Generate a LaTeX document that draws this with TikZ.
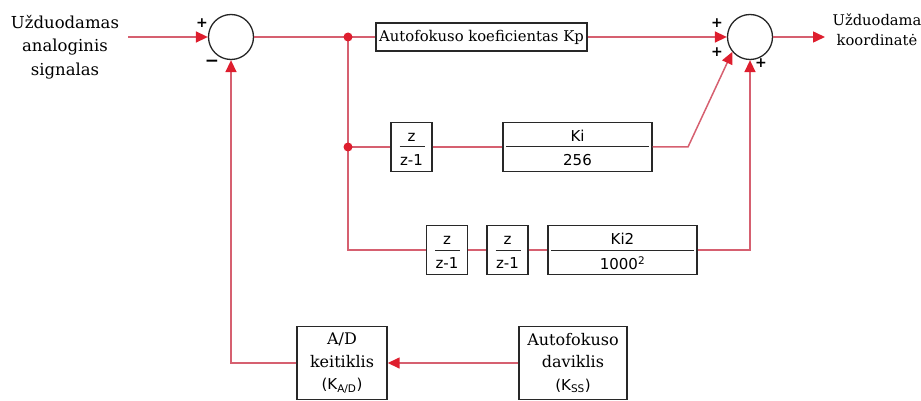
\documentclass[tikz,border=0pt]{standalone}
\usepackage{fontspec}
\setmainfont{DejaVu Serif}
\setsansfont{DejaVu Sans}
\usetikzlibrary{arrows.meta,positioning}
\definecolor{wire}{RGB}{214,96,112}
\definecolor{tipred}{RGB}{222,30,46}
\definecolor{frame}{RGB}{40,40,40}

\begin{document}
\begin{tikzpicture}[x=1pt, y=-1pt,
  sumc/.style={circle, draw=black!85, line width=1.3pt, minimum size=45pt,
               inner sep=0pt},
  blk/.style={draw=frame, line width=1.4pt, inner sep=0pt, align=center},
  zbox/.style={blk, minimum width=41pt, minimum height=49pt},
  kbox/.style={blk, minimum width=149pt, minimum height=49pt},
  sensbox/.style={blk, font=\fontsize{16}{22.5}\selectfont, minimum height=73pt},
  num/.style={font=\sffamily\fontsize{15}{15}\selectfont, inner sep=0pt},
  bar/.style={line width=1pt, frame},
  link/.style={wire, line width=1.5pt},
  feed/.style={link, -{Triangle[length=12pt, width=11pt, color=tipred, fill=tipred]}},
  sgn/.style={font=\sffamily\bfseries\fontsize{14}{14}\selectfont, inner sep=0pt},
  lab/.style={align=center, inner sep=0pt}
]
\useasboundingbox (0,0) rectangle (921,401);

% summing points and signals
\node[sumc] (s1) at (231,37) {};
\node[sumc] (s2) at (750,37) {};
\node[lab, font=\fontsize{16.5}{23.5}\selectfont] (insig) at (65,47)
  {Užduodamas\\analoginis\\signalas};
\node[lab, font=\fontsize{14.7}{20}\selectfont] (outc) at (877,30)
  {Užduodama\\koordinatė};
\coordinate (inp) at (128,37);
\coordinate (outp) at (825,37);

\node[sgn] (p1) at (202,23) {+};
\node[sgn, font=\sffamily\bfseries\fontsize{17}{17}\selectfont] (m1) at (212,63) {\char"2212};
\node[sgn] (p2) at (717,23) {+};
\node[sgn] (p3) at (717,52) {+};
\node[sgn] (p4) at (761,63) {+};

% proportional path
\node[blk, minimum width=211pt, minimum height=28pt,
      font=\fontsize{14.8}{16}\selectfont] (kp) at (481.5,37)
  {Autofokuso koeficientas Kp};
\coordinate (j1) at (348,37);
\coordinate (j2) at (348,147);
\coordinate (j3) at (348,250);

% integral path
\node[zbox] (z1) at (411.5,147) {};
\node[kbox] (ki) at (577.5,147) {};
\coordinate (bend) at (688,147);

% double integral path
\node[zbox] (z2) at (447,250) {};
\node[zbox] (z3) at (507.5,250) {};
\node[kbox] (ki2) at (622.5,250) {};
\coordinate (c2) at (750,250);

\foreach \b in {z1,z2,z3} {
  \node[num] (\b n) at ([yshift=10pt]\b.center) {z};
  \node[num] (\b d) at ([yshift=-13pt]\b.center) {z-1};
  \draw[bar] ([xshift=-12pt]\b.center) -- ([xshift=13pt]\b.center);
}
\foreach \b/\t/\d in {ki/Ki/256, ki2/Ki2/1000\textsuperscript{2}} {
  \node[num] (\b n) at ([yshift=11pt]\b.center) {\t};
  \node[num] (\b d) at ([yshift=-13pt]\b.center) {\d};
  \draw[bar] ([xshift=4pt]\b.west) -- ([xshift=-4pt]\b.east);
}

% feedback
\node[sensbox, minimum width=90pt] (adc) at (342,363)
  {A/D\\keitiklis\\{\sffamily\fontsize{15}{22.5}\selectfont(K\textsubscript{A/D})}};
\node[sensbox, minimum width=108pt] (sens) at (573,363)
  {Autofokuso\\daviklis\\{\sffamily\fontsize{15}{22.5}\selectfont(K\textsubscript{SS})}};
\coordinate (fb) at (231,363);

% connectors
\draw[feed] (inp) -- (s1.west);
\draw[link] (s1.east) -- (j1) -- (kp.west);
\draw[feed] (kp.east) -- (s2.west);
\draw[feed] (s2.east) -- (outp);
\draw[link] (j1) -- (j3) -- (z2.west);
\draw[link] (j2) -- (z1.west);
\draw[link] (z1.east) -- (ki.west);
\draw[feed] (ki.east) -- (bend) -- (s2.220);
\draw[link] (z2.east) -- (z3.west);
\draw[link] (z3.east) -- (ki2.west);
\draw[feed] (ki2.east) -- (c2) -- (s2.south);
\draw[feed] (sens.west) -- (adc.east);
\draw[feed] (adc.west) -- (fb) -- (s1.south);
\foreach \j in {j1,j2}
  \fill[tipred] (\j) circle (4.5pt);
\end{tikzpicture}
\end{document}
